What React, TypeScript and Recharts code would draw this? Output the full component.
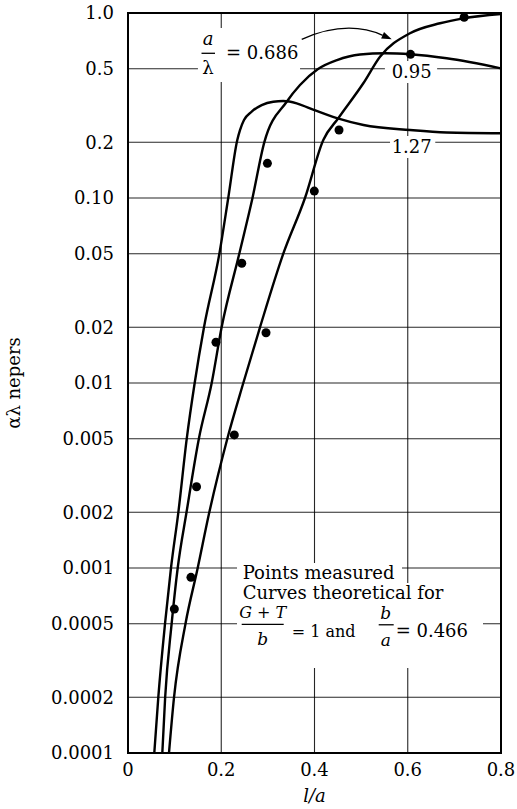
import React from "react";
import {
  ComposedChart,
  Scatter,
  XAxis,
  YAxis,
  CartesianGrid,
  ReferenceArea,
  ReferenceDot,
} from "recharts";

const FONT = '"DejaVu Serif", "Liberation Serif", serif';

// axis ticks
const xTicks = [0, 0.2, 0.4, 0.6, 0.8];
const xTickLabels = ["0", "0.2", "0.4", "0.6", "0.8"];
const yTicks = [0.0001, 0.0002, 0.0005, 0.001, 0.002, 0.005, 0.01, 0.02, 0.05, 0.1, 0.2, 0.5, 1];
const yTickLabels = ["0.0001", "0.0002", "0.0005", "0.001", "0.002", "0.005", "0.01", "0.02", "0.05", "0.10", "0.2", "0.5", "1.0"];

// theoretical curves, a/lambda = 1.27, 0.95, 0.686
const curve127X = [0.0564, 0.065, 0.0794, 0.0922, 0.108, 0.126, 0.143, 0.163, 0.196, 0.215, 0.2344, 0.2402, 0.2488, 0.2653, 0.2868, 0.3116, 0.333, 0.3618, 0.3903, 0.448, 0.505, 0.605, 0.683, 0.8];
const curve127Y = [0.0001, 0.0002, 0.0005, 0.001, 0.002, 0.005, 0.01, 0.02, 0.05, 0.1, 0.206, 0.233, 0.264, 0.293, 0.318, 0.3316, 0.3344, 0.325, 0.305, 0.27, 0.248, 0.233, 0.226, 0.224];

const curve095X = [0.0736, 0.0797, 0.0936, 0.1066, 0.1255, 0.152, 0.1795, 0.2008, 0.2387, 0.267, 0.2923, 0.3404, 0.3689, 0.4075, 0.4483, 0.4976, 0.5512, 0.6063, 0.6835, 0.8];
const curve095Y = [0.0001, 0.0002, 0.0005, 0.001, 0.002, 0.005, 0.01, 0.02, 0.05, 0.1, 0.2, 0.3313, 0.408, 0.498, 0.557, 0.5965, 0.6056, 0.598, 0.569, 0.502];

const curve0686X = [0.0879, 0.0987, 0.1233, 0.1495, 0.1744, 0.213, 0.2473, 0.2831, 0.3331, 0.3796, 0.4189, 0.451, 0.5047, 0.5405, 0.6048, 0.6692, 0.7191, 0.8];
const curve0686Y = [0.0001, 0.0002, 0.0005, 0.001, 0.002, 0.005, 0.01, 0.02, 0.05, 0.1, 0.206, 0.27, 0.417, 0.58, 0.777, 0.88, 0.936, 0.988];

// measured points
const pointX = [0.0994, 0.135, 0.147, 0.1887, 0.228, 0.244, 0.296, 0.299, 0.3996, 0.4526, 0.606, 0.721];
const pointY = [0.0006, 0.00089, 0.00275, 0.0166, 0.00524, 0.0444, 0.0187, 0.154, 0.109, 0.233, 0.598, 0.948];

const zip = (xs: number[], ys: number[]) => xs.map((x, i) => ({ x, y: ys[i] }));

const curve127 = zip(curve127X, curve127Y);
const curve095 = zip(curve095X, curve095Y);
const curve0686 = zip(curve0686X, curve0686Y);
const points = zip(pointX, pointY);

const fmtX = (v: number) => xTickLabels[xTicks.indexOf(v)] ?? String(v);
const fmtY = (v: number) => yTickLabels[yTicks.indexOf(v)] ?? String(v);

const Dot = (p: any) => <circle cx={p.cx} cy={p.cy} r={4.5} fill="#000" />;
const NoMark = () => <g />;

const RatioLabel = ({ cx, cy }: any) => (
  <g fontFamily={FONT} fill="#000" fontSize={18}>
    <text x={cx} y={cy - 8} textAnchor="middle" fontStyle="italic">a</text>
    <line x1={cx - 6.5} x2={cx + 7} y1={cy} y2={cy} stroke="#000" strokeWidth={1.3} />
    <text x={cx} y={cy + 21} textAnchor="middle">λ</text>
    <text x={cx + 18} y={cy + 6}>= 0.686</text>
  </g>
);

const Arrow = ({ cx, cy }: any) => (
  <g>
    <path d={`M${cx},${cy} Q${cx + 45},${cy - 20} ${cx + 81},${cy - 4}`} fill="none" stroke="#000" strokeWidth={1.3} />
    <path d={`M${cx + 90},${cy} L${cx + 79.4},${cy - 0.9} L${cx + 82.3},${cy - 7.3} Z`} fill="#000" />
  </g>
);

const CurveName = (text: string) => ({ cx, cy }: any) => (
  <text x={cx} y={cy} dy="0.35em" textAnchor="middle" fontFamily={FONT} fontSize={18} fill="#000">
    {text}
  </text>
);

const NoteLabel = ({ cx, cy }: any) => (
  <g fontFamily={FONT} fill="#000" fontSize={18}>
    <text x={cx} y={cy}>Points measured</text>
    <text x={cx} y={cy + 20}>Curves theoretical for</text>
    <text x={cx + 20} y={cy + 39} textAnchor="middle" fontStyle="italic" fontSize={16}>G + T</text>
    <line x1={cx - 1} x2={cx + 41} y1={cy + 45} y2={cy + 45} stroke="#000" strokeWidth={1.3} />
    <text x={cx + 20} y={cy + 66} textAnchor="middle" fontStyle="italic" fontSize={17}>b</text>
    <text x={cx + 49} y={cy + 58} fontSize={16}>= 1 and</text>
    <text x={cx + 143} y={cy + 40} textAnchor="middle" fontStyle="italic" fontSize={17}>b</text>
    <line x1={cx + 136} x2={cx + 151} y1={cy + 45.5} y2={cy + 45.5} stroke="#000" strokeWidth={1.3} />
    <text x={cx + 143} y={cy + 67} textAnchor="middle" fontStyle="italic" fontSize={17}>a</text>
    <text x={cx + 153} y={cy + 58}>= 0.466</text>
  </g>
);

const YLabel = (props: any) => {
  const vb = props.viewBox;
  const x = vb.x + 20;
  const y = vb.y + vb.height / 2;
  return (
    <text x={x} y={y} transform={`rotate(-90, ${x}, ${y})`} textAnchor="middle" fontFamily={FONT} fontSize={18} fill="#000">
      αλ nepers
    </text>
  );
};

const XLabel = (props: any) => {
  const vb = props.viewBox;
  return (
    <text x={vb.x + vb.width / 2} y={vb.y + 49} textAnchor="middle" fontFamily={FONT} fontSize={18} fontStyle="italic" fill="#000">
      l/a
    </text>
  );
};

const tickStyle = { fill: "#000", fontSize: 18, fontFamily: FONT };
const curveLine = { stroke: "#000", strokeWidth: 2.4 };

export default function App() {
  return (
    <div style={{ position: "absolute", left: 0, top: 0, background: "#fff" }}>
      <ComposedChart width={517} height={809} margin={{ top: 13, right: 16, bottom: 0, left: 0 }}>
        <CartesianGrid stroke="#000" strokeWidth={1.1} strokeOpacity={0.85} />
        <XAxis
          type="number"
          dataKey="x"
          domain={[0, 0.8]}
          ticks={xTicks}
          tickFormatter={fmtX}
          height={56}
          tickSize={0}
          tickMargin={10}
          axisLine={false}
          tick={tickStyle}
          label={{ content: XLabel }}
          allowDataOverflow
        />
        <YAxis
          type="number"
          dataKey="y"
          scale="log"
          domain={[0.0001, 1]}
          ticks={yTicks}
          tickFormatter={fmtY}
          width={128}
          tickSize={0}
          tickMargin={14}
          axisLine={false}
          tick={tickStyle}
          interval={0}
          label={{ content: YLabel }}
          allowDataOverflow
        />

        {/* white patches behind the labels */}
        <ReferenceArea x1={0.15} x2={0.369} y1={0.424} y2={0.83} fill="#fff" fillOpacity={1} stroke="none" />
        <ReferenceArea x1={0.551} x2={0.663} y1={0.418} y2={0.55} fill="#fff" fillOpacity={1} stroke="none" />
        <ReferenceArea x1={0.562} x2={0.659} y1={0.1645} y2={0.2163} fill="#fff" fillOpacity={1} stroke="none" />
        <ReferenceArea x1={0.2338} x2={0.5877} y1={0.000819} y2={0.001064} fill="#fff" fillOpacity={1} stroke="none" />
        <ReferenceArea x1={0.2338} x2={0.66} y1={0.000639} y2={0.00083} fill="#fff" fillOpacity={1} stroke="none" />
        <ReferenceArea x1={0.2338} x2={0.7614} y1={0.000288} y2={0.00065} fill="#fff" fillOpacity={1} stroke="none" />

        {/* frame */}
        <ReferenceArea x1={0} x2={0.8} y1={0.0001} y2={1} fill="none" stroke="#000" strokeWidth={2} />

        <Scatter data={curve127} dataKey="y" shape={NoMark} line={curveLine} lineJointType="monotoneX" isAnimationActive={false} />
        <Scatter data={curve095} dataKey="y" shape={NoMark} line={curveLine} lineJointType="monotoneX" isAnimationActive={false} />
        <Scatter data={curve0686} dataKey="y" shape={NoMark} line={curveLine} lineJointType="monotoneX" isAnimationActive={false} />
        <Scatter data={points} dataKey="y" shape={Dot} isAnimationActive={false} />

        <ReferenceDot x={0.1716} y={0.6056} r={0} ifOverflow="visible" shape={RatioLabel} />
        <ReferenceDot x={0.3726} y={0.7208} r={0} ifOverflow="visible" shape={Arrow} />
        <ReferenceDot x={0.6085} y={0.4817} r={0} ifOverflow="visible" shape={CurveName("0.95")} />
        <ReferenceDot x={0.6085} y={0.1894} r={0} ifOverflow="visible" shape={CurveName("1.27")} />
        <ReferenceDot x={0.246} y={0.000869} r={0} ifOverflow="visible" shape={NoteLabel} />
      </ComposedChart>
    </div>
  );
}
